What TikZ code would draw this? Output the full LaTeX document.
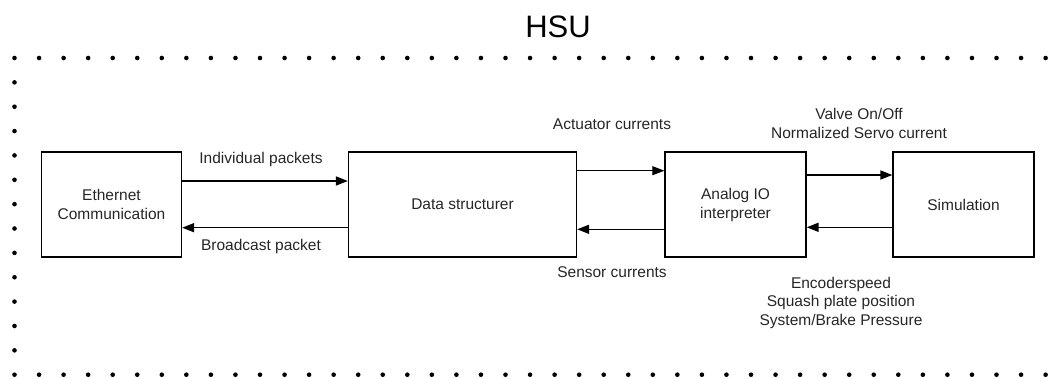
\documentclass[tikz,border=0pt]{standalone}
\usepackage{fontspec}
\setmainfont{Liberation Sans}
\usetikzlibrary{arrows.meta}
\begin{document}
\begin{tikzpicture}[x=1pt,y=-1pt,
  blk/.style={draw=black,line width=1.3pt,minimum height=105pt,inner sep=0pt,align=center,font=\fontsize{15.5}{19}\selectfont,text=black!85},
  lbl/.style={align=center,inner sep=0pt,font=\fontsize{15.5}{18.5}\selectfont,text=black!85},
  arr/.style={line width=1.5pt,-{Triangle[length=12pt,width=9pt]}},
  thinarr/.style={line width=0.9pt,-{Triangle[length=12pt,width=9pt]}},
  dot/.style={fill=black}]
\useasboundingbox (0,0) rectangle (1062,378);
% dotted frame
\foreach \i in {0,...,42} {
  \fill[dot] (14.5+24.55*\i,58) circle (2.3pt);
  \fill[dot] (14.5+24.55*\i,374.7) circle (2.3pt);
}
\foreach \j in {1,...,12} {
  \fill[dot] (14.5,58+24.36*\j) circle (2.3pt);
}
\node[font=\fontsize{31}{36}\selectfont,inner sep=0pt] (hsu) at (558,27) {HSU};
% blocks
\node[blk,minimum width=140pt] (eth) at (111.5,204.5) {Ethernet\\Communication};
\node[blk,minimum width=228pt] (ds) at (462.5,204.5) {Data structurer};
\node[blk,minimum width=141pt] (aio) at (735.5,204.5) {Analog IO\\interpreter};
\node[blk,minimum width=141pt] (sim) at (963.5,204.5) {Simulation};
% connectors
\draw[arr] ([yshift=23.5pt]eth.east) -- ([yshift=23.5pt]ds.west);
\draw[arr] ([yshift=-23.2pt]ds.west) -- ([yshift=-23.2pt]eth.east);
\draw[thinarr] ([yshift=33.8pt]ds.east) -- ([yshift=33.8pt]aio.west);
\draw[arr] ([yshift=-24.8pt]aio.west) -- ([yshift=-24.8pt]ds.east);
\draw[arr] ([yshift=29.5pt]aio.east) -- ([yshift=29.5pt]sim.west);
\draw[arr] ([yshift=-22.8pt]sim.west) -- ([yshift=-22.8pt]aio.east);
% labels
\node[lbl] (l1) at (261,159) {Individual packets};
\node[lbl] (l2) at (261,246.5) {Broadcast packet};
\node[lbl] (l3) at (612,124) {Actuator currents};
\node[lbl] (l4) at (612,272.5) {Sensor currents};
\node[lbl] (l5) at (859,123.5) {Valve On/Off\\Normalized Servo current};
\node[lbl] (l6) at (841,302.5) {Encoderspeed\\Squash plate position\\System/Brake Pressure};
\end{tikzpicture}
\end{document}
